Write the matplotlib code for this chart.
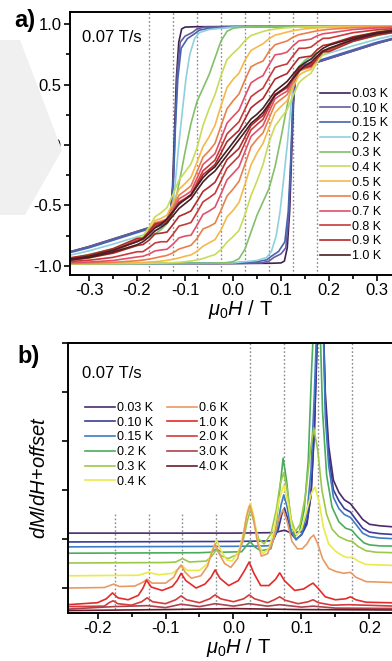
import matplotlib
matplotlib.use("Agg")
import matplotlib.pyplot as plt
from matplotlib.ticker import MultipleLocator, FormatStrFormatter, NullFormatter
from matplotlib.patches import Polygon

plt.rcParams["font.family"] = ["Liberation Sans", "DejaVu Sans"]
plt.rcParams["mathtext.fontset"] = "custom"
plt.rcParams["mathtext.rm"] = "Liberation Sans"
plt.rcParams["mathtext.it"] = "Liberation Sans:italic"
plt.rcParams["axes.unicode_minus"] = False

# ---------------- panel a: hysteresis loops (descending branch, M/Ms) ----------------
resonance_fields = [-0.175, -0.125, -0.075, -0.025, 0.025, 0.075, 0.125, 0.175]

# low temperature loops, own field points
h_003 = [-0.36, -0.3, -0.26, -0.22, -0.18, -0.16, -0.14, -0.13, -0.126, -0.122, -0.118,
         -0.113, -0.107, -0.1, -0.08, 0.0, 0.2, 0.36]
m_003 = [-0.905, -0.84, -0.79, -0.74, -0.69, -0.67, -0.63, -0.55, -0.35, 0.1, 0.55,
         0.85, 0.96, 0.975, 0.978, 0.98, 0.982, 0.985]
h_010 = [-0.36, -0.3, -0.26, -0.22, -0.18, -0.15, -0.135, -0.128, -0.124, -0.12, -0.116,
         -0.11, -0.1, -0.085, -0.075, -0.06, 0.0, 0.36]
m_010 = [-0.905, -0.84, -0.79, -0.74, -0.69, -0.665, -0.62, -0.5, -0.25, 0.2, 0.6,
         0.85, 0.9, 0.93, 0.96, 0.975, 0.98, 0.985]
h_015 = [-0.36, -0.3, -0.26, -0.22, -0.18, -0.16, -0.14, -0.13, -0.124, -0.12, -0.115,
         -0.108, -0.095, -0.08, -0.07, -0.05, 0.0, 0.36]
m_015 = [-0.91, -0.85, -0.80, -0.75, -0.70, -0.68, -0.64, -0.55, -0.3, 0.15, 0.55,
         0.8, 0.88, 0.92, 0.95, 0.965, 0.975, 0.985]
h_020 = [-0.36, -0.3, -0.25, -0.2, -0.175, -0.15, -0.135, -0.127, -0.12, -0.113, -0.105,
         -0.098, -0.09, -0.08, -0.07, -0.05, -0.025, 0.0, 0.1, 0.36]
m_020 = [-0.93, -0.875, -0.82, -0.76, -0.73, -0.69, -0.64, -0.55, -0.3, 0.0, 0.3,
         0.55, 0.75, 0.88, 0.93, 0.955, 0.965, 0.975, 0.98, 0.985]

# higher temperature loops on a shared field grid
h_grid = [-0.35, -0.3, -0.25, -0.2, -0.1875, -0.175, -0.1625, -0.15, -0.1375, -0.125,
          -0.1125, -0.1, -0.0875, -0.075, -0.0625, -0.05, -0.0375, -0.025, -0.0125, 0.0,
          0.0125, 0.025, 0.0375, 0.05, 0.0625, 0.075, 0.0875, 0.1, 0.1125, 0.125,
          0.1375, 0.15, 0.1625, 0.175, 0.1875, 0.2, 0.25, 0.3, 0.35]
m_030 = [-0.95, -0.905, -0.86, -0.8, -0.78, -0.76, -0.735, -0.7, -0.65, -0.55,
         -0.32, -0.06, 0.18, 0.36, 0.47, 0.58, 0.72, 0.86, 0.94, 0.965,
         0.972, 0.975, 0.977, 0.977, 0.978, 0.978, 0.978, 0.978, 0.979, 0.979,
         0.979, 0.979, 0.98, 0.98, 0.98, 0.98, 0.982, 0.984, 0.985]
m_040 = [-0.961, -0.937, -0.884, -0.772, -0.75, -0.681, -0.594, -0.56, -0.517, -0.407,
         -0.289, -0.224, -0.156, -0.025, 0.162, 0.298, 0.417, 0.574, 0.707, 0.758,
         0.804, 0.864, 0.906, 0.922, 0.939, 0.951, 0.959, 0.965, 0.97, 0.973,
         0.975, 0.976, 0.977, 0.978, 0.978, 0.979, 0.98, 0.98, 0.98]
m_050 = [-0.958, -0.935, -0.885, -0.787, -0.771, -0.709, -0.626, -0.607, -0.58, -0.476,
         -0.366, -0.319, -0.267, -0.142, -0.014, 0.066, 0.164, 0.324, 0.475, 0.542,
         0.594, 0.702, 0.782, 0.81, 0.837, 0.879, 0.909, 0.92, 0.934, 0.945,
         0.954, 0.96, 0.965, 0.968, 0.971, 0.973, 0.978, 0.98, 0.98]
m_060 = [-0.956, -0.931, -0.883, -0.791, -0.779, -0.722, -0.643, -0.63, -0.611, -0.516,
         -0.415, -0.378, -0.337, -0.22, -0.10, -0.049, 0.014, 0.159, 0.30, 0.365,
         0.422, 0.539, 0.647, 0.674, 0.694, 0.774, 0.829, 0.845, 0.86, 0.892,
         0.913, 0.923, 0.934, 0.944, 0.951, 0.957, 0.97, 0.976, 0.978]
m_070 = [-0.952, -0.926, -0.878, -0.791, -0.78, -0.726, -0.652, -0.643, -0.629, -0.54,
         -0.445, -0.416, -0.382, -0.274, -0.161, -0.117, -0.071, 0.053, 0.181, 0.236,
         0.288, 0.404, 0.514, 0.547, 0.574, 0.663, 0.746, 0.753, 0.768, 0.82,
         0.862, 0.868, 0.876, 0.902, 0.92, 0.926, 0.955, 0.968, 0.974]
m_080 = [-0.948, -0.921, -0.872, -0.789, -0.779, -0.728, -0.661, -0.651, -0.636, -0.556,
         -0.472, -0.443, -0.41, -0.313, -0.213, -0.17, -0.125, -0.018, 0.092, 0.143,
         0.192, 0.297, 0.40, 0.437, 0.47, 0.558, 0.641, 0.657, 0.67, 0.738,
         0.80, 0.80, 0.81, 0.848, 0.882, 0.883, 0.929, 0.953, 0.966]
m_090 = [-0.939, -0.909, -0.857, -0.773, -0.77, -0.714, -0.653, -0.641, -0.624, -0.554,
         -0.479, -0.451, -0.419, -0.333, -0.245, -0.204, -0.161, -0.067, 0.028, 0.075,
         0.121, 0.216, 0.308, 0.348, 0.384, 0.466, 0.545, 0.569, 0.59, 0.657,
         0.72, 0.729, 0.735, 0.787, 0.823, 0.832, 0.895, 0.932, 0.953]
m_100 = [-0.95, -0.92, -0.87, -0.8, -0.775, -0.735, -0.685, -0.655, -0.61, -0.55,
         -0.49, -0.45, -0.41, -0.34, -0.27, -0.22, -0.18, -0.11, -0.045, 0.02,
         0.085, 0.15, 0.215, 0.255, 0.305, 0.375, 0.445, 0.485, 0.525, 0.585,
         0.645, 0.68, 0.71, 0.76, 0.8, 0.825, 0.885, 0.93, 0.958]

labels_a = ["0.03 K", "0.10 K", "0.15 K", "0.2 K", "0.3 K", "0.4 K",
            "0.5 K", "0.6 K", "0.7 K", "0.8 K", "0.9 K", "1.0 K"]
colors_a = ["#3d2352", "#6b5a9e", "#4565b0", "#8fd0dc", "#82c06a", "#c9dc5a",
            "#f5b94a", "#e9804a", "#e0506a", "#c83a3a", "#b02a2a", "#4a1f24"]
fields_a = [h_003, h_010, h_015, h_020] + [h_grid] * 8
moments_a = [m_003, m_010, m_015, m_020, m_030, m_040,
             m_050, m_060, m_070, m_080, m_090, m_100]

# ---------------- panel b: dM/dH + offset (ascending sweep) ----------------
h_b003 = [-0.2434, 0.0, 0.06, 0.075, 0.085, 0.1, 0.108, 0.114, 0.119, 0.124, 0.13,
          0.135, 0.14, 0.147, 0.155, 0.163, 0.172, 0.18, 0.19, 0.2, 0.215, 0.26]
d_b003 = [2.12, 2.12, 2.13, 2.18, 2.12, 2.15, 2.35, 2.9, 4.2, 6.5, 7.5,
          5.0, 3.9, 3.2, 2.95, 2.8, 2.72, 2.58, 2.4, 2.3, 2.27, 2.22]
h_b010 = [-0.2434, 0.0, 0.05, 0.058, 0.066, 0.071, 0.075, 0.079, 0.085, 0.092, 0.1,
          0.108, 0.114, 0.119, 0.124, 0.13, 0.135, 0.14, 0.147, 0.155, 0.163, 0.172,
          0.18, 0.19, 0.2, 0.215, 0.26]
d_b010 = [1.94, 1.95, 1.96, 1.97, 2.2, 2.5, 2.63, 2.45, 2.1, 2.0, 2.08,
          2.3, 2.9, 4.3, 6.5, 7.5, 4.8, 3.7, 3.0, 2.78, 2.62, 2.55,
          2.4, 2.22, 2.14, 2.11, 2.07]
h_b015 = [-0.2434, 0.0, 0.05, 0.056, 0.064, 0.07, 0.074, 0.079, 0.085, 0.092, 0.1,
          0.108, 0.114, 0.119, 0.124, 0.13, 0.135, 0.14, 0.147, 0.155, 0.163, 0.172,
          0.18, 0.19, 0.2, 0.215, 0.26]
d_b015 = [1.84, 1.85, 1.86, 1.88, 2.2, 2.7, 2.9, 2.65, 2.15, 1.98, 2.1,
          2.5, 3.4, 5.0, 7.0, 7.5, 4.5, 3.5, 2.85, 2.62, 2.5, 2.44,
          2.3, 2.12, 2.05, 2.02, 1.99]
h_b020 = [-0.2434, -0.05, -0.033, -0.025, -0.017, 0.012, 0.02, 0.025, 0.03, 0.04, 0.055,
          0.062, 0.068, 0.073, 0.078, 0.084, 0.09, 0.097, 0.104, 0.11, 0.115, 0.12,
          0.126, 0.131, 0.137, 0.145, 0.155, 0.165, 0.174, 0.182, 0.192, 0.2, 0.215, 0.26]
d_b020 = [1.71, 1.72, 1.73, 1.8, 1.73, 1.74, 1.88, 1.95, 1.85, 1.76, 1.8,
          2.2, 3.0, 3.65, 3.2, 2.4, 2.05, 2.15, 2.6, 3.6, 5.5, 7.0,
          7.0, 4.6, 3.3, 2.65, 2.35, 2.22, 2.18, 2.05, 1.92, 1.88, 1.86, 1.85]
h_b030 = [-0.2434, -0.1, -0.085, -0.075, -0.065, -0.04, -0.032, -0.025, -0.018, -0.008,
          0.005, 0.014, 0.02, 0.025, 0.03, 0.037, 0.045, 0.055, 0.063, 0.069, 0.074,
          0.079, 0.085, 0.091, 0.098, 0.106, 0.113, 0.118, 0.124, 0.13, 0.137, 0.145,
          0.155, 0.167, 0.175, 0.183, 0.195, 0.21, 0.26]
d_b030 = [1.51, 1.52, 1.53, 1.6, 1.53, 1.55, 1.65, 1.78, 1.66, 1.6,
          1.68, 1.95, 2.35, 2.6, 2.35, 2.0, 1.9, 2.1, 2.6, 3.15, 3.35,
          3.0, 2.4, 2.15, 2.3, 2.9, 3.8, 4.27, 3.8, 3.0, 2.5, 2.2,
          2.05, 1.97, 1.95, 1.85, 1.76, 1.73, 1.71]
h_b040 = [-0.2434, -0.14, -0.125, -0.11, -0.09, -0.08, -0.075, -0.068, -0.05, -0.038,
          -0.031, -0.025, -0.019, -0.01, -0.002, 0.008, 0.015, 0.021, 0.025, 0.03, 0.036,
          0.043, 0.052, 0.06, 0.067, 0.074, 0.08, 0.086, 0.093, 0.1, 0.108, 0.115,
          0.12, 0.126, 0.132, 0.14, 0.15, 0.16, 0.168, 0.175, 0.183, 0.195, 0.26]
d_b040 = [1.25, 1.26, 1.32, 1.27, 1.3, 1.4, 1.45, 1.36, 1.36, 1.5,
          1.78, 1.98, 1.78, 1.57, 1.55, 1.75, 2.15, 2.6, 2.73, 2.45, 1.95,
          1.7, 1.8, 2.2, 2.8, 3.1, 2.75, 2.25, 2.08, 2.2, 2.6, 2.95,
          3.06, 2.75, 2.25, 1.9, 1.75, 1.66, 1.62, 1.63, 1.55, 1.48, 1.45]
h_b060 = [-0.2434, -0.19, -0.18, -0.176, -0.168, -0.145, -0.133, -0.127, -0.12, -0.1,
          -0.088, -0.082, -0.077, -0.071, -0.062, -0.048, -0.038, -0.032, -0.027, -0.021,
          -0.013, -0.004, 0.006, 0.013, 0.019, 0.024, 0.029, 0.035, 0.041, 0.05, 0.058,
          0.066, 0.073, 0.079, 0.086, 0.094, 0.101, 0.108, 0.113, 0.118, 0.124, 0.131,
          0.14, 0.15, 0.162, 0.172, 0.18, 0.195, 0.26]
d_b060 = [1.0, 1.01, 1.06, 1.08, 1.03, 1.04, 1.12, 1.18, 1.1, 1.1,
          1.22, 1.38, 1.47, 1.32, 1.2, 1.25, 1.45, 1.72, 1.9, 1.7,
          1.5, 1.42, 1.6, 1.95, 2.45, 2.69, 2.45, 1.95, 1.65, 1.7, 1.95,
          2.4, 2.6, 2.35, 1.95, 1.8, 1.8, 1.9, 2.02, 2.08, 1.9, 1.6,
          1.4, 1.34, 1.3, 1.32, 1.22, 1.13, 1.10]
h_b100 = [-0.2434, -0.2, -0.187, -0.178, -0.17, -0.155, -0.14, -0.133, -0.128, -0.121,
          -0.105, -0.09, -0.083, -0.077, -0.07, -0.055, -0.042, -0.033, -0.027, -0.02,
          -0.007, 0.007, 0.016, 0.023, 0.03, 0.04, 0.052, 0.062, 0.068, 0.075, 0.09,
          0.103, 0.112, 0.117, 0.124, 0.135, 0.15, 0.165, 0.172, 0.18, 0.195, 0.26]
d_b100 = [0.66, 0.7, 0.78, 0.9, 0.8, 0.76, 0.85, 1.0, 1.16, 1.02,
          0.95, 1.03, 1.15, 1.3, 1.15, 1.0, 1.08, 1.22, 1.37, 1.2,
          1.05, 1.15, 1.35, 1.53, 1.3, 1.05, 1.05, 1.18, 1.31, 1.15, 0.95,
          0.98, 1.06, 1.10, 1.0, 0.82, 0.76, 0.78, 0.82, 0.76, 0.71, 0.69]
h_b200 = [-0.2434, -0.19, -0.183, -0.177, -0.17, -0.15, -0.135, -0.127, -0.119, -0.1,
          -0.085, -0.077, -0.069, -0.05, -0.035, -0.027, -0.019, 0.0, 0.015, 0.023,
          0.031, 0.05, 0.06, 0.068, 0.076, 0.095, 0.11, 0.117, 0.125, 0.145, 0.17, 0.26]
d_b200 = [0.62, 0.63, 0.7, 0.74, 0.68, 0.65, 0.72, 0.8, 0.72, 0.68,
          0.76, 0.84, 0.76, 0.7, 0.78, 0.86, 0.78, 0.72, 0.78, 0.86,
          0.78, 0.7, 0.76, 0.82, 0.75, 0.68, 0.72, 0.76, 0.7, 0.65, 0.66, 0.62]
h_b300 = [-0.2434, -0.177, -0.127, -0.1, -0.077, -0.05, -0.027, 0.0, 0.023, 0.05,
          0.068, 0.1, 0.117, 0.15, 0.26]
d_b300 = [0.57, 0.62, 0.64, 0.6, 0.67, 0.62, 0.68, 0.63, 0.68, 0.63,
          0.66, 0.61, 0.63, 0.59, 0.58]
h_b400 = [-0.2434, -0.1, 0.0, 0.1, 0.26]
d_b400 = [0.54, 0.56, 0.58, 0.56, 0.55]

labels_b = ["0.03 K", "0.10 K", "0.15 K", "0.2 K", "0.3 K", "0.4 K",
            "0.6 K", "1.0 K", "2.0 K", "3.0 K", "4.0 K"]
colors_b = ["#4b2a6b", "#3b3b9b", "#3d7cc4", "#4aac5c", "#9cc84a", "#eaea48",
            "#e99a63", "#e42a2a", "#d23c3c", "#a8424f", "#6b1c2a"]
fields_b = [h_b003, h_b010, h_b015, h_b020, h_b030, h_b040, h_b060, h_b100, h_b200,
            h_b300, h_b400]
derivs_b = [d_b003, d_b010, d_b015, d_b020, d_b030, d_b040, d_b060, d_b100, d_b200,
            d_b300, d_b400]

W, H = 392, 661
fig = plt.figure(figsize=(W / 100, H / 100), dpi=100)

# faint grey watermark shape at the left of panel a
fig.patches.append(Polygon([(0, 1 - 40 / H), (20 / W, 1 - 40 / H), (62 / W, 1 - 150 / H),
                            (25 / W, 1 - 215 / H), (0, 1 - 215 / H)],
                           closed=True, transform=fig.transFigure,
                           facecolor="#f0f0f0", edgecolor="none", zorder=0))


def style_axes(ax):
    for s in ax.spines.values():
        s.set_linewidth(1.4)
    ax.tick_params(which="both", direction="out", width=1.2, labelsize=12, pad=2)
    ax.tick_params(which="major", length=4)
    ax.tick_params(which="minor", length=3)
    ax.tick_params(axis="y", which="both", right=False)
    ax.tick_params(axis="x", which="both", top=False)
    ax.patch.set_alpha(0)


# ----- panel a -----
ax_a = fig.add_axes([70 / W, 1 - 275 / H, (411 - 70) / W, 263 / H])
ax_a.set_xlim(-0.3396, 0.3708)
ax_a.set_ylim(-1.075, 1.10)
for r in resonance_fields:
    ax_a.axvline(r, color="#8a8a8a", ls=(0, (1.2, 1.6)), lw=1.0, zorder=1)
for h, m, c, lab in zip(fields_a, moments_a, colors_a, labels_a):
    # descending branch as read, ascending branch is its mirror image
    ax_a.plot(h, m, color=c, lw=1.2, label=lab, zorder=2)
    ax_a.plot([-x for x in h], [-y for y in m], color=c, lw=1.2, zorder=2)
ax_a.xaxis.set_major_locator(MultipleLocator(0.1))
ax_a.xaxis.set_minor_locator(MultipleLocator(0.05))
ax_a.yaxis.set_major_locator(MultipleLocator(0.5))
ax_a.yaxis.set_minor_locator(MultipleLocator(0.25))
ax_a.xaxis.set_major_formatter(FormatStrFormatter("%.1f"))
ax_a.yaxis.set_major_formatter(FormatStrFormatter("%.1f"))
style_axes(ax_a)
ax_a.set_xlabel(r"$\mu_0H$ / T", fontsize=14.5, labelpad=0)
ax_a.set_ylabel(r"$M/M_S$", fontsize=15, labelpad=-2)
ax_a.text(0.035, 0.93, "0.07 T/s", transform=ax_a.transAxes, fontsize=12,
          ha="left", va="top")
ax_a.legend(loc="upper left", bbox_to_anchor=(320 / W, 1 - 88 / H),
            bbox_transform=fig.transFigure, frameon=False, fontsize=9,
            handlelength=2.4, handletextpad=0.15, labelspacing=0.22,
            borderpad=0, borderaxespad=0)
fig.text(14 / W, 1 - 21 / H, "a)", fontsize=17, fontweight="bold", va="center")

# ----- panel b -----
ax_b = fig.add_axes([68 / W, 1 - 613 / H, (410 - 68) / W, 270 / H])
ax_b.set_xlim(-0.2434, 0.2596)
ax_b.set_ylim(0.49, 6.0)
for r in resonance_fields:
    top = 6.0 if r > 0 else 2.55
    ax_b.plot([r, r], [0.49, top], color="#8a8a8a", ls=(0, (1.2, 1.6)), lw=1.0, zorder=1)
for h, d, c, lab in zip(fields_b, derivs_b, colors_b, labels_b):
    ax_b.plot(h, d, color=c, lw=1.2, label=lab, zorder=2)
ax_b.xaxis.set_major_locator(MultipleLocator(0.1))
ax_b.xaxis.set_minor_locator(MultipleLocator(0.05))
ax_b.xaxis.set_major_formatter(FormatStrFormatter("%.1f"))
ax_b.yaxis.set_major_locator(MultipleLocator(1))
ax_b.yaxis.set_major_formatter(NullFormatter())
style_axes(ax_b)
ax_b.set_xlabel(r"$\mu_0H$ / T", fontsize=14.5, labelpad=0)
ax_b.set_ylabel(r"$dM/dH$+$offset$", fontsize=14.5, labelpad=8)
ax_b.text(0.04, 0.915, "0.07 T/s", transform=ax_b.transAxes, fontsize=12,
          ha="left", va="top")
ax_b.legend(loc="upper left", bbox_to_anchor=(85 / W, 1 - 402 / H),
            bbox_transform=fig.transFigure, ncol=2, frameon=False, fontsize=9,
            handlelength=2.4, handletextpad=0.15, labelspacing=0.22,
            columnspacing=1.1, borderpad=0, borderaxespad=0)
fig.text(17 / W, 1 - 357 / H, "b)", fontsize=17, fontweight="bold", va="center")

fig.savefig("out.png", dpi=100)
